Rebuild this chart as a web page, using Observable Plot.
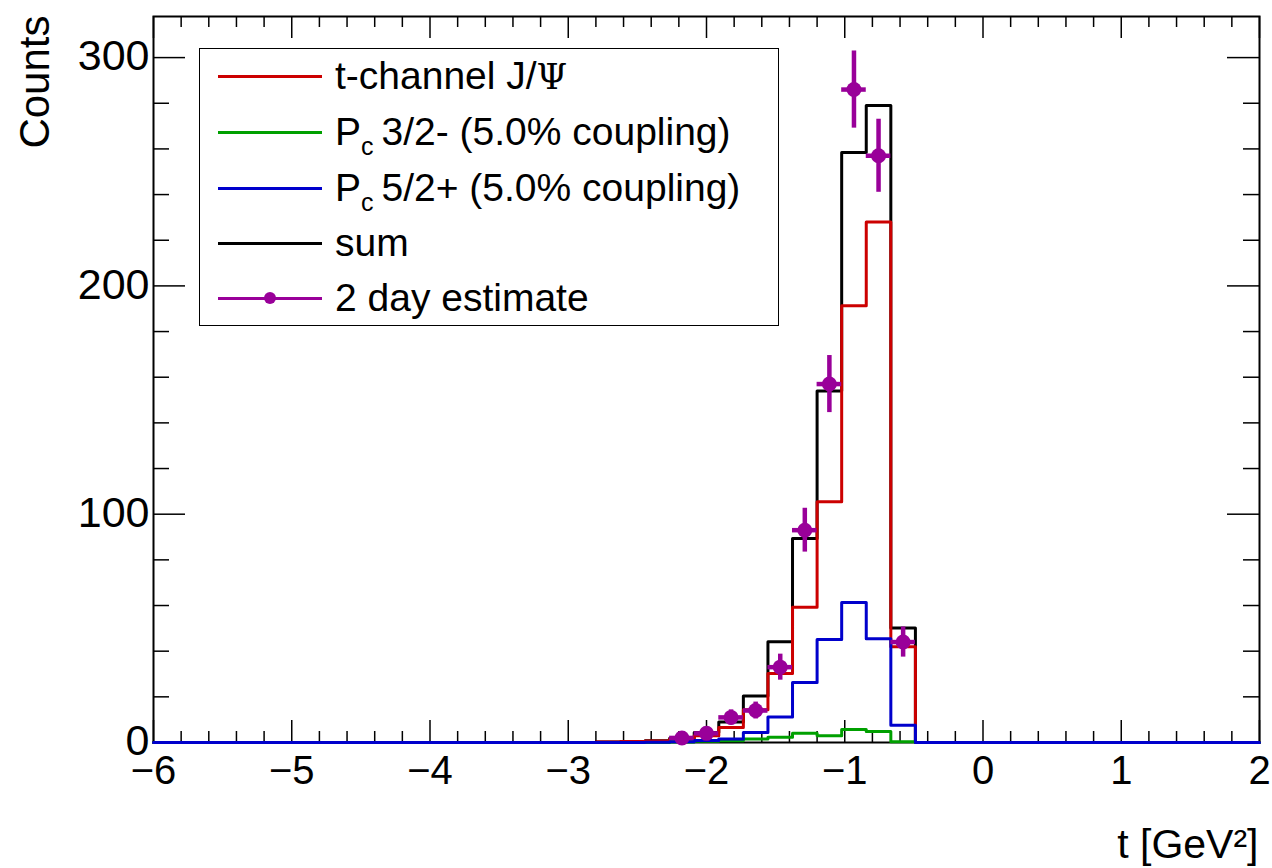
<!DOCTYPE html>
<html>
<head>
<meta charset="utf-8">
<script src="https://cdn.jsdelivr.net/npm/d3@7"></script>
<script src="https://cdn.jsdelivr.net/npm/@observablehq/plot@0.6"></script>
<style>
  html, body { margin: 0; padding: 0; background: #fff; }
  #wrap { position: relative; width: 1272px; height: 868px; font-family: "Liberation Sans", Arial, Helvetica, sans-serif; }
  #legend { position: absolute; left: 199px; top: 48px; width: 580px; height: 278px; border: 1.5px solid #000; background: #fff; box-sizing: border-box; }
  .row { position: absolute; left: 0; height: 44px; margin-top: -22px; }
  .sw { position: absolute; left: 18px; width: 104px; height: 3px; top: 20.5px; }
  .dotm { position: absolute; left: 64px; top: 16px; width: 12px; height: 12px; border-radius: 50%; background: #990099; }
  .lab { position: absolute; left: 135px; top: 0; height: 44px; line-height: 44px; font-size: 39px; white-space: nowrap; color: #000; }
  .lab sub { font-size: 25px; vertical-align: -10px; line-height: 0; margin-right: 8px; }
  .psi { font-family: "DejaVu Serif", "Liberation Serif", serif; font-size: 35px; }
</style>
</head>
<body>
<div id="wrap">
  <div id="chart"></div>
  <div id="legend"></div>
</div>
<script>
// ---------------- data ----------------
const binLow = -6, binHigh = 2, nBins = 45;

// t-channel J/Psi (red)
const tChannel = [0,0,0,0,0,0,0,0,0,0,0,0,0,0,0,0,0,0,
  0.2,0.4,0.7,1.4,3.0,6.6,14.3,30.2,59.2,105.4,191.3,228.0,41.9,
  0,0,0,0,0,0,0,0,0,0,0,0,0,0];
// Pc 3/2- (green)
const pc32 = [0,0,0,0,0,0,0,0,0,0,0,0,0,0,0,0,0,0,
  0,0,0,0.2,0.5,0.8,1.5,2.3,4.0,3.0,5.7,4.8,0.3,
  0,0,0,0,0,0,0,0,0,0,0,0,0,0];
// Pc 5/2+ (blue)
const pc52 = [0,0,0,0,0,0,0,0,0,0,0,0,0,0,0,0,0,0,
  0,0,0.1,0.3,0.9,1.5,4.4,11.2,26.3,45.1,61.3,45.4,7.6,
  0,0,0,0,0,0,0,0,0,0,0,0,0,0];
// sum (black)
const sumHist = [0,0,0,0,0,0,0,0,0,0,0,0,0,0,0,0,0,0,
  0.2,0.4,0.8,1.9,4.4,9.0,20.4,44.1,89.4,154,258.4,279,50.2,
  0,0,0,0,0,0,0,0,0,0,0,0,0,0];

// 2 day estimate (purple points)
const dataBins   = [21, 22, 23, 24, 25, 26, 27, 28, 29, 30];
const dataCounts = [2, 4, 11, 14, 33, 93, 157, 286, 257, 44];
const dataErrors = [1.4, 2.0, 3.3, 3.7, 5.7, 9.6, 12.5, 16.9, 16.0, 6.6];

const xMajorTicks = [-6, -5, -4, -3, -2, -1, 0, 1, 2];
const yMajorTicks = [0, 100, 200, 300];
const xMinorStep = 0.2, yMinorStep = 20;

// ---------------- derived tables ----------------
const binWidth = (binHigh - binLow) / nBins;
const edges = d3.range(nBins).map(i => binLow + i * binWidth);
function histRows(values) {
  const rows = values.map((v, i) => ({x: edges[i], y: v}));
  rows.push({x: binHigh, y: values[nBins - 1]});
  return rows;
}
const points = dataBins.map((b, i) => ({
  lo: edges[b], hi: edges[b] + binWidth, c: edges[b] + binWidth / 2,
  v: dataCounts[i], e: dataErrors[i]
}));
const xMinorTicks = d3.range(binLow, binHigh + 1e-9, xMinorStep).filter(t => Math.abs(t - Math.round(t)) > 1e-6);
const yMinorTicks = d3.range(0, 318, yMinorStep).filter(t => t % 100 !== 0);

// ---------------- layout ----------------
const W = 1272, H = 868;
const mL = 153, mR = 13, mT = 16, mB = 126;
const PW = W - mL - mR, PH = H - mT - mB;

const RED = "#cc0000", GREEN = "#00a000", BLUE = "#0000cc", PURPLE = "#990099";

const chart = Plot.plot({
  width: W, height: H,
  marginLeft: mL, marginRight: mR, marginTop: mT, marginBottom: mB,
  style: {fontFamily: '"Liberation Sans", Arial, Helvetica, sans-serif', background: "white", color: "black"},
  x: {domain: [binLow, binHigh]},
  y: {domain: [0, 318]},
  marks: [
    Plot.frame({stroke: "black", strokeWidth: 2}),
    // ticks (ROOT style, inside, on all four sides)
    Plot.tickX(xMajorTicks, {x: d => d, insetTop: PH - 22, stroke: "black", strokeWidth: 1.5}),
    Plot.tickX(xMinorTicks, {x: d => d, insetTop: PH - 11, stroke: "black", strokeWidth: 1.5}),
    Plot.tickX(xMajorTicks, {x: d => d, insetBottom: PH - 22, stroke: "black", strokeWidth: 1.5}),
    Plot.tickX(xMinorTicks, {x: d => d, insetBottom: PH - 11, stroke: "black", strokeWidth: 1.5}),
    Plot.tickY(yMajorTicks, {y: d => d, insetRight: PW - 32, stroke: "black", strokeWidth: 1.5}),
    Plot.tickY(yMinorTicks, {y: d => d, insetRight: PW - 16, stroke: "black", strokeWidth: 1.5}),
    Plot.tickY(yMajorTicks, {y: d => d, insetLeft: PW - 32, stroke: "black", strokeWidth: 1.5}),
    Plot.tickY(yMinorTicks, {y: d => d, insetLeft: PW - 16, stroke: "black", strokeWidth: 1.5}),
    Plot.axisX({ticks: xMajorTicks, tickSize: 0, tickPadding: 13, fontSize: 40, label: null}),
    Plot.axisY({ticks: yMajorTicks, tickSize: 0, tickPadding: 4, fontSize: 43, label: null, dy: -1}),
    Plot.text(["Counts"], {frameAnchor: "top-left", rotate: -90, textAnchor: "end", dx: -134, dy: -1, fontSize: 42}),
    Plot.text(["t [GeV²]"], {frameAnchor: "bottom-right", textAnchor: "end", lineAnchor: "bottom", dy: 115, dx: -1, fontSize: 41}),
    // histograms
    Plot.line(histRows(sumHist), {x: "x", y: "y", curve: "step-after", stroke: "black", strokeWidth: 3}),
    Plot.line(histRows(tChannel), {x: "x", y: "y", curve: "step-after", stroke: RED, strokeWidth: 3}),
    Plot.line(histRows(pc32), {x: "x", y: "y", curve: "step-after", stroke: GREEN, strokeWidth: 3}),
    Plot.line(histRows(pc52), {x: "x", y: "y", curve: "step-after", stroke: BLUE, strokeWidth: 3}),
    // data points
    Plot.ruleY(points, {y: "v", x1: "lo", x2: "hi", stroke: PURPLE, strokeWidth: 4.5}),
    Plot.ruleX(points, {x: "c", y1: d => d.v - d.e, y2: d => d.v + d.e, stroke: PURPLE, strokeWidth: 4.5}),
    Plot.dot(points, {x: "c", y: "v", r: 7.5, fill: PURPLE, stroke: "none"})
  ]
});
document.getElementById("chart").appendChild(chart);

// ---------------- legend ----------------
const legendRows = [
  {color: RED,    html: 't-channel J/<span class="psi">Ψ</span>', dot: false},
  {color: GREEN,  html: 'P<sub>c</sub>3/2- (5.0% coupling)', dot: false},
  {color: BLUE,   html: 'P<sub>c</sub>5/2+ (5.0% coupling)', dot: false},
  {color: "#000", html: 'sum', dot: false},
  {color: PURPLE, html: '2 day estimate', dot: true}
];
const rowCenters = [27, 83, 139, 194, 249];
const leg = document.getElementById("legend");
legendRows.forEach((r, i) => {
  const row = document.createElement("div");
  row.className = "row";
  row.style.top = rowCenters[i] + "px";
  row.innerHTML = `<div class="sw" style="background:${r.color}"></div>` +
    (r.dot ? '<div class="dotm"></div>' : '') +
    `<div class="lab">${r.html}</div>`;
  leg.appendChild(row);
});
</script>
</body>
</html>
